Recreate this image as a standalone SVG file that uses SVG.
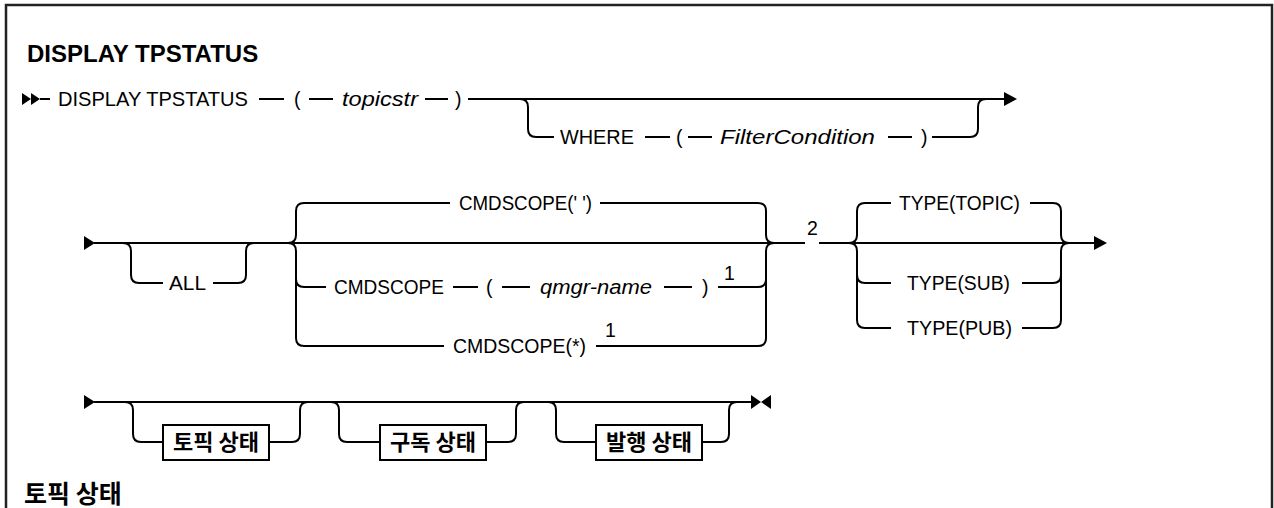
<svg xmlns="http://www.w3.org/2000/svg" width="1274" height="508" viewBox="0 0 1274 508">
<style>
.t{font-family:"Liberation Sans","Noto Sans CJK KR",sans-serif;font-size:19.5px;fill:#000}
.i{font-style:italic}
.h{font-family:"Liberation Sans","Noto Sans CJK KR",sans-serif;font-weight:bold;fill:#000}
.k{font-family:"Noto Sans CJK KR","Liberation Sans",sans-serif;font-weight:bold;font-size:22px;fill:#000}
.l{fill:none;stroke:#000;stroke-width:2}
.b{fill:#fff;stroke:#000;stroke-width:2}
.a{fill:#000}
</style>
<rect x="0" y="0" width="1274" height="508" fill="#fff"/>
<path d="M6,512 L6,5 L1272,5 L1272,512" fill="none" stroke="#222" stroke-width="2.5"/>
<text id="title" class="h" x="27" y="62" style="font-size:24px">DISPLAY TPSTATUS</text>

<g id="connectors">
<!-- row 1 -->
<polygon class="a" points="22,93 31,99 22,105"/>
<polygon class="a" points="31,93 40,99 31,105"/>
<path class="l" d="M40,99 L50,99"/>
<path class="l" d="M259,99 L284,99 M309,99 L333,99 M425,99 L448,99 M468,99 L1004,99"/>
<path class="l" d="M520,99 Q528,99 528,107 L528,129 Q528,137 536,137 L554,137"/>
<path class="l" d="M645,137 L670,137 M688,137 L712,137 M888,137 L912,137 M932,137 L970,137 Q978,137 978,129 L978,107 Q978,99 986,99"/>
<polygon class="a" points="1004,92 1017,99 1004,106"/>
<!-- row 2 -->
<polygon class="a" points="84,236 95,243 84,250"/>
<path class="l" d="M94,243 L805,243 M819,243 L1094,243"/>
<path class="l" d="M123,243 Q131,243 131,251 L131,275 Q131,283 139,283 L163,283 M213,283 L238,283 Q246,283 246,275 L246,251 Q246,243 254,243"/>
<path class="l" d="M288,243 Q296,243 296,235 L296,211 Q296,203 304,203 L450,203 M600,203 L758,203 Q766,203 766,211 L766,235 Q766,243 774,243"/>
<path class="l" d="M288,243 Q296,243 296,251 L296,338 Q296,346 304,346 L444,346 M596,346 L758,346 Q766,346 766,338 L766,251 Q766,243 774,243"/>
<path class="l" d="M296,279 Q296,287 304,287 L326,287 M453,287 L478,287 M502,287 L530,287 M664,287 L692,287 M718,287 L758,287 Q766,287 766,279"/>
<path class="l" d="M849,243 Q857,243 857,235 L857,211 Q857,203 865,203 L891,203 M1030,203 L1053,203 Q1061,203 1061,211 L1061,235 Q1061,243 1069,243"/>
<path class="l" d="M849,243 Q857,243 857,251 L857,320 Q857,328 865,328 L891,328 M1022,328 L1053,328 Q1061,328 1061,320 L1061,251 Q1061,243 1069,243"/>
<path class="l" d="M857,275 Q857,283 865,283 L891,283 M1022,283 L1053,283 Q1061,283 1061,275"/>
<polygon class="a" points="1094,236 1107,243 1094,250"/>
<!-- row 3 -->
<polygon class="a" points="84,395 95,402 84,409"/>
<path class="l" d="M94,402 L752,402"/>
<path class="l" d="M125,402 Q133,402 133,410 L133,434 Q133,442 141,442 L163,442 M269,442 L292,442 Q300,442 300,434 L300,410 Q300,402 308,402"/>
<path class="l" d="M331,402 Q339,402 339,410 L339,434 Q339,442 347,442 L380,442 M486,442 L508,442 Q516,442 516,434 L516,410 Q516,402 524,402"/>
<path class="l" d="M548,402 Q556,402 556,410 L556,434 Q556,442 564,442 L596,442 M702,442 L721,442 Q729,442 729,434 L729,410 Q729,402 737,402"/>
<polygon class="a" points="751,395 761,402 751,409"/>
<polygon class="a" points="771,395 761,402 771,409"/>
</g>

<g id="n-display"><text class="t" x="58" y="106" textLength="190" lengthAdjust="spacingAndGlyphs">DISPLAY TPSTATUS</text></g>
<g id="n-topicstr">
<text class="t" x="294" y="106">(</text>
<text class="t i" x="342" y="106" textLength="76" lengthAdjust="spacingAndGlyphs">topicstr</text>
<text class="t" x="455" y="106">)</text>
</g>
<g id="n-where">
<text class="t" x="560" y="144" textLength="74" lengthAdjust="spacingAndGlyphs">WHERE</text>
<text class="t" x="676" y="144">(</text>
<text class="t i" x="720" y="144" textLength="155" lengthAdjust="spacingAndGlyphs">FilterCondition</text>
<text class="t" x="921" y="144">)</text>
</g>
<g id="n-all"><text class="t" x="169" y="290" textLength="37" lengthAdjust="spacingAndGlyphs">ALL</text></g>
<g id="n-cmdscope-blank"><text class="t" x="459" y="210" textLength="133" lengthAdjust="spacingAndGlyphs">CMDSCOPE(' ')</text></g>
<g id="n-cmdscope-qmgr">
<text class="t" x="334" y="294" textLength="110" lengthAdjust="spacingAndGlyphs">CMDSCOPE</text>
<text class="t" x="486" y="294">(</text>
<text class="t i" x="540" y="294" textLength="112" lengthAdjust="spacingAndGlyphs">qmgr-name</text>
<text class="t" x="702" y="294">)</text>
<text class="t" x="724" y="280">1</text>
</g>
<g id="n-cmdscope-star">
<text class="t" x="453" y="353" textLength="133" lengthAdjust="spacingAndGlyphs">CMDSCOPE(*)</text>
<text class="t" x="605" y="337">1</text>
</g>
<g id="n-note2"><text class="t" x="807" y="235">2</text></g>
<g id="n-type-topic"><text class="t" x="899" y="210" textLength="121" lengthAdjust="spacingAndGlyphs">TYPE(TOPIC)</text></g>
<g id="n-type-sub"><text class="t" x="907" y="290" textLength="103" lengthAdjust="spacingAndGlyphs">TYPE(SUB)</text></g>
<g id="n-type-pub"><text class="t" x="907" y="335" textLength="105" lengthAdjust="spacingAndGlyphs">TYPE(PUB)</text></g>
<g id="n-topic-status"><rect class="b" x="163" y="425" width="106" height="35"/><text class="k" x="216" y="450" text-anchor="middle">토픽 상태</text></g>
<g id="n-sub-status"><rect class="b" x="380" y="425" width="106" height="35"/><text class="k" x="433" y="450" text-anchor="middle">구독 상태</text></g>
<g id="n-pub-status"><rect class="b" x="596" y="425" width="106" height="35"/><text class="k" x="649" y="450" text-anchor="middle">발행 상태</text></g>
<text id="heading" class="k" x="24" y="503" style="font-size:25px">토픽 상태</text>
</svg>
